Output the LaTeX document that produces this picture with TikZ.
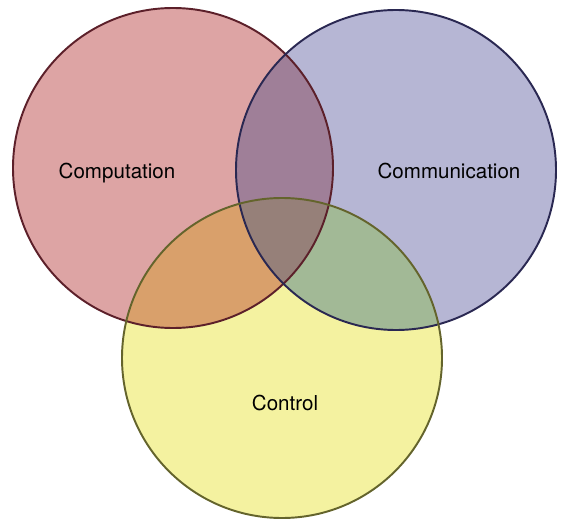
\documentclass[tikz,border=0pt]{standalone}
\usepackage{fontspec}
\setmainfont{TeX Gyre Heros}
\definecolor{compfill}{RGB}{221,164,164}
\definecolor{commfill}{RGB}{182,182,212}
\definecolor{ctrlfill}{RGB}{244,242,160}
\definecolor{compcommfill}{RGB}{159,127,152}
\definecolor{compctrlfill}{RGB}{217,160,107}
\definecolor{commctrlfill}{RGB}{162,185,150}
\definecolor{allfill}{RGB}{150,128,121}
\definecolor{compline}{RGB}{92,32,42}
\definecolor{commline}{RGB}{42,40,82}
\definecolor{ctrlline}{RGB}{100,100,44}

\begin{document}
\begin{tikzpicture}[x=0.02cm,y=0.02cm,
    setlabel/.style={font=\fontsize{11.7}{14}\selectfont,anchor=base},
    ring/.style={line width=1.1pt}]
            \useasboundingbox (0,0) rectangle (564,521);
            % the three sets
            \fill[compfill](173,353)circle(160);
            \fill[commfill](396,351)circle(160);
            \fill[ctrlfill](282,163)circle(160);
            % pairwise overlaps
            \begin{scope}
                \clip(173,353)circle(160);
                \fill[compcommfill](396,351)circle(160);
                \fill[compctrlfill](282,163)circle(160);
            \end{scope}
            \begin{scope}
                \clip(396,351)circle(160);
                \fill[commctrlfill](282,163)circle(160);
            \end{scope}
            % middle part
            \begin{scope}
                \clip(173,353)circle(160);
                \clip(396,351)circle(160);
                \fill[allfill](282,163)circle(160);
            \end{scope}
            % outlines
            \draw[ring,compline](173,353)circle(160);
            \draw[ring,commline](396,351)circle(160);
            \draw[ring,ctrlline](282,163)circle(160);
            \node[setlabel] (comp) at (117,342){Computation};
            \node[setlabel] (comm) at (449,342){Communication};
            \node[setlabel] (ctrl) at (285,111){Control};
        \end{tikzpicture}
\end{document}
